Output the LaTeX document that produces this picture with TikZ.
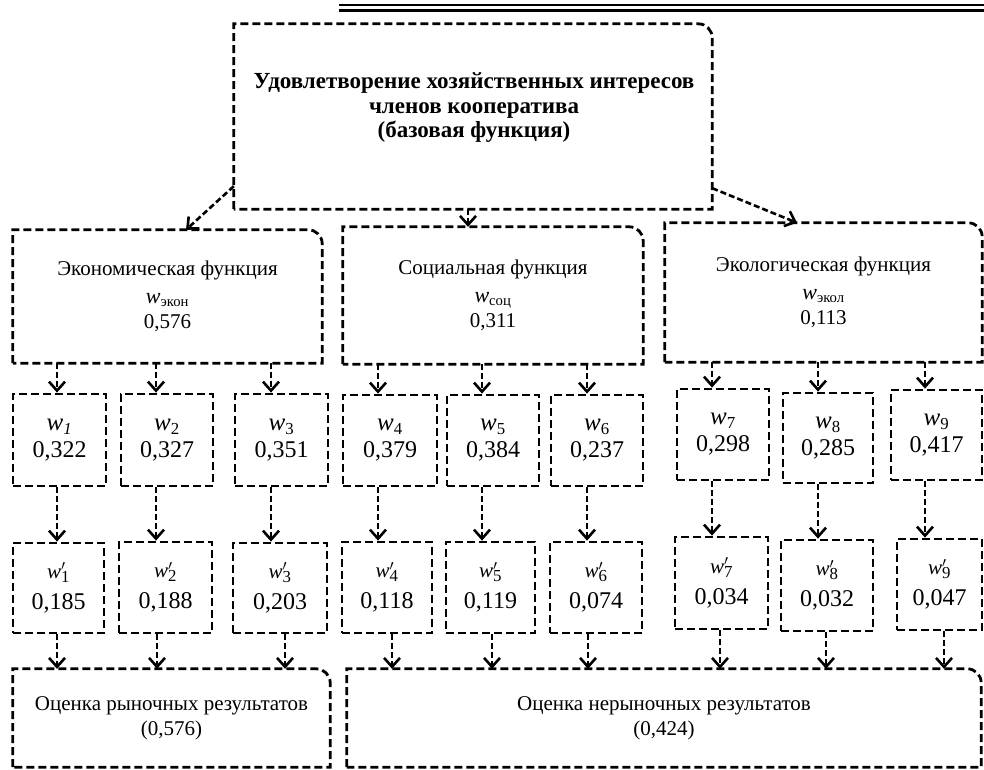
\documentclass[tikz,border=0pt]{standalone}
\usepackage{fontspec}
\setmainfont{Liberation Serif}
\usetikzlibrary{arrows.meta,calc}
\newcommand\wv[1]{{\fontsize{25}{25}\selectfont\textit{w}}\textsubscript{#1}}
\newcommand\wf[1]{{\fontsize{22}{22}\selectfont\textit{w}}\textsubscript{#1}}
\newcommand\wvi[1]{{\fontsize{25}{25}\selectfont\textit{w}}\textsubscript{\textit{#1}}}
\newcommand\wpr[1]{{\fontsize{21}{21}\selectfont\textit{w}\rlap{$^{\prime}$}}\textsubscript{#1}}
\newcommand\rtbox[1]{\draw[boxline] (#1.south west) -- (#1.north west) -- ($(#1.north east)+(-14,0)$) arc[start angle=90,end angle=0,radius=14pt] -- (#1.south east) -- cycle;}
\newcommand\bnode[6]{\node[bx,minimum width={#4-#2},minimum height={#5-#3}] (#1) at ({(#2+#4)/2},{(#3+#5)/2}) {#6};}
\begin{document}
\begin{tikzpicture}[x=1pt,y=-1pt,
  boxline/.style={line width=2.8pt,dash pattern=on 8pt off 4pt},
  bx/.style={draw=none,inner sep=0pt,align=center,font=\fontsize{21}{25}\selectfont},
  sq/.style={boxline,draw},
  arr/.style={line width=2.6pt,dash pattern=on 6pt off 3pt,-{Straight Barb[length=9pt,width=16pt,line width=2.6pt]}}]
\useasboundingbox (0,0) rectangle (984,769);
% top double rule
\coordinate (r1) at (339,5);
\coordinate (r2) at (984,5);
\coordinate (r3) at (339,10);
\coordinate (r4) at (984,10);
\draw[line width=1.4pt] (r1) -- (r2);
\draw[line width=3pt] (r3) -- (r4);
% top box
\bnode{top}{234}{24}{712}{209}{}
\rtbox{top}
\node[align=center,font=\bfseries\fontsize{23}{24.5}\selectfont] (toptxt) at (474,108)
  {Удовлетворение хозяйственных интересов\\членов кооператива\\(базовая функция)};
% function boxes
\bnode{econ}{13}{230}{322}{363}{Экономическая функция\\[3pt]\wf{экон}\\0,576}
\bnode{soc}{343}{227}{643}{364}{Социальная функция\\[3pt]\wf{соц}\\0,311}
\bnode{ecol}{665}{223}{982}{362}{Экологическая функция\\[3pt]\wf{экол}\\0,113}
\rtbox{econ}\rtbox{soc}\rtbox{ecol}
% row 1
\tikzset{r1/.style={bx,sq,font=\fontsize{24}{27}\selectfont}}
\node[r1,minimum width=93,minimum height=92] (w1) at (59.5,440) {\wvi{1}\\0,322};
\node[r1,minimum width=92,minimum height=92] (w2) at (167,440) {\wv{2}\\0,327};
\node[r1,minimum width=93,minimum height=92] (w3) at (281.5,440) {\wv{3}\\0,351};
\node[r1,minimum width=94,minimum height=91] (w4) at (390,440.5) {\wv{4}\\0,379};
\node[r1,minimum width=92,minimum height=91] (w5) at (493,440.5) {\wv{5}\\0,384};
\node[r1,minimum width=92,minimum height=91] (w6) at (597,440.5) {\wv{6}\\0,237};
\node[r1,minimum width=92,minimum height=91] (w7) at (723,434.5) {\wv{7}\\0,298};
\node[r1,minimum width=90,minimum height=90] (w8) at (828,438) {\wv{8}\\0,285};
\node[r1,minimum width=91,minimum height=90] (w9) at (936.5,435) {\wv{9}\\0,417};
% row 2
\tikzset{r2/.style={bx,sq,font=\fontsize{24}{31}\selectfont}}
\node[r2,minimum width=91,minimum height=90] (p1) at (58.5,588) {\wpr{1}\\0,185};
\node[r2,minimum width=93,minimum height=91] (p2) at (165.5,587.5) {\wpr{2}\\0,188};
\node[r2,minimum width=94,minimum height=90] (p3) at (280,588) {\wpr{3}\\0,203};
\node[r2,minimum width=90,minimum height=91] (p4) at (387,587.5) {\wpr{4}\\0,118};
\node[r2,minimum width=89,minimum height=91] (p5) at (490.5,587.5) {\wpr{5}\\0,119};
\node[r2,minimum width=92,minimum height=91] (p6) at (596,587.5) {\wpr{6}\\0,074};
\node[r2,minimum width=93,minimum height=92] (p7) at (721.5,583) {\wpr{7}\\0,034};
\node[r2,minimum width=92,minimum height=91] (p8) at (827,585.5) {\wpr{8}\\0,032};
\node[r2,minimum width=85,minimum height=91] (p9) at (939.5,584.5) {\wpr{9}\\0,047};
% bottom boxes
\bnode{mkt}{13}{669}{330}{767}{Оценка рыночных результатов\\(0,576)}
\bnode{nmkt}{347}{669}{981}{767}{Оценка нерыночных результатов\\(0,424)}
\rtbox{mkt}\rtbox{nmkt}
% arrow columns
\foreach \i/\x in {1/57,2/156,3/271,4/378,5/482,6/587,7/712,8/818,9/925}
  \coordinate (a\i) at (\x,0);
\foreach \i/\x in {1/57,2/157,3/285,4/392,5/492,6/588,7/720,8/826,9/944}
  \coordinate (b\i) at (\x,0);
\coordinate (ta) at (186,0);
\coordinate (tb) at (468,0);
\coordinate (tc) at (797,0);
% arrows from top box
\draw[arr] ($(top.south west)+(0,-23)$) -- (econ.north -| ta);
\draw[arr] (top.south -| tb) -- (soc.north -| tb);
\draw[arr] ($(top.south east)+(0,-21)$) -- (ecol.north -| tc);
% arrows to row 1
\foreach \f/\i in {econ/1,econ/2,econ/3,soc/4,soc/5,soc/6,ecol/7,ecol/8,ecol/9}
  \draw[arr] (\f.south -| a\i) -- (w\i.north -| a\i);
% row1 -> row2
\foreach \i in {1,...,9}
  \draw[arr] (w\i.south -| a\i) -- (p\i.north -| a\i);
% row2 -> bottom
\foreach \t/\i in {mkt/1,mkt/2,mkt/3,nmkt/4,nmkt/5,nmkt/6,nmkt/7,nmkt/8,nmkt/9}
  \draw[arr] (p\i.south -| b\i) -- (\t.north -| b\i);
\end{tikzpicture}
\end{document}
